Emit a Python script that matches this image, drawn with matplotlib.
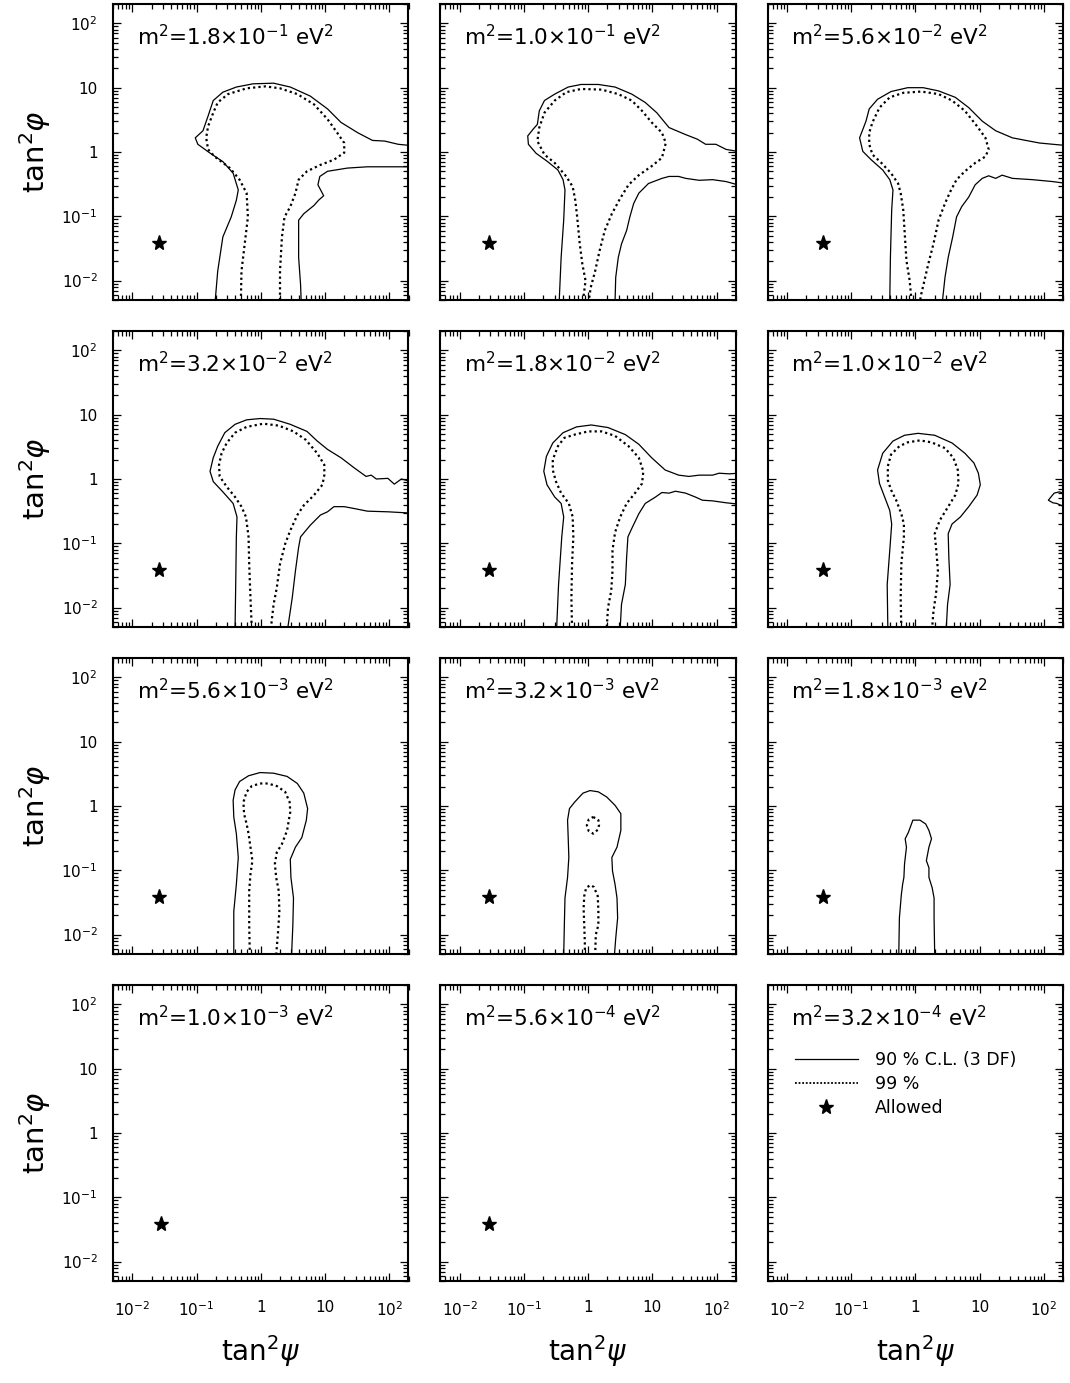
import matplotlib
matplotlib.use("Agg")
import matplotlib.pyplot as plt
import numpy as np
from matplotlib.lines import Line2D
from matplotlib.ticker import FixedLocator, LogLocator, NullFormatter

# panel labels (m^2 in eV^2)
m2_labels = ["1.8", "1.0", "5.6", "3.2", "1.8", "1.0", "5.6", "3.2", "1.8", "1.0", "5.6", "3.2"]
m2_exps = [-1, -1, -2, -2, -2, -2, -3, -3, -3, -3, -4, -4]

# best-fit "allowed" points, log10(tan^2 psi), log10(tan^2 phi); None = no star
star_lx = [-1.58, -1.54, -1.44, -1.58, -1.54, -1.44, -1.58, -1.54, -1.44, -1.55, -1.54, None]
star_ly = [-1.41, -1.41, -1.41, -1.42, -1.42, -1.42, -1.42, -1.42, -1.42, -1.42, -1.42, None]

# contours: (log10 tan^2 psi, log10 tan^2 phi)
p1_solid = [
    [[-0.71, -2.32], [-0.67, -1.85], [-0.59, -1.32], [-0.46, -1.01], [-0.38, -0.75], [-0.35, -0.59],
     [-0.43, -0.33], [-0.59, -0.15], [-0.80, -0.01], [-0.98, 0.12], [-1.02, 0.22], [-0.90, 0.33],
     [-0.82, 0.56], [-0.74, 0.80], [-0.59, 0.93], [-0.38, 1.01], [-0.12, 1.06], [0.20, 1.07],
     [0.46, 1.01], [0.77, 0.87], [1.04, 0.67], [1.25, 0.46], [1.51, 0.30], [1.74, 0.18],
     [1.93, 0.17], [2.14, 0.12], [2.34, 0.10]],
    [[2.34, -0.23], [2.08, -0.23], [1.66, -0.23], [1.35, -0.25], [1.04, -0.30], [0.92, -0.38],
     [0.89, -0.51], [0.98, -0.68], [0.90, -0.75], [0.83, -0.83], [0.67, -0.96], [0.59, -1.06],
     [0.59, -1.64], [0.62, -2.06], [0.63, -2.32]],
]
p1_dotted = [
    [[-0.31, -2.32], [-0.30, -1.85], [-0.25, -1.43], [-0.20, -1.01], [-0.22, -0.64], [-0.33, -0.43],
     [-0.48, -0.25], [-0.72, -0.07], [-0.82, 0.04], [-0.85, 0.22], [-0.82, 0.40], [-0.74, 0.61],
     [-0.67, 0.77], [-0.51, 0.90], [-0.22, 0.99], [0.07, 1.02], [0.30, 0.99], [0.57, 0.90],
     [0.83, 0.74], [1.04, 0.51], [1.19, 0.30], [1.30, 0.14], [1.30, -0.01], [1.14, -0.12],
     [0.93, -0.20], [0.72, -0.30], [0.59, -0.43], [0.54, -0.64], [0.46, -0.85], [0.37, -1.01],
     [0.33, -1.32], [0.30, -1.85], [0.30, -2.32]],
]

p2_solid = [
    [[-0.45, -2.32], [-0.42, -1.64], [-0.38, -1.06], [-0.36, -0.59], [-0.39, -0.43], [-0.47, -0.28],
     [-0.63, -0.15], [-0.81, -0.02], [-0.93, 0.12], [-0.94, 0.25], [-0.86, 0.35], [-0.79, 0.43],
     [-0.76, 0.64], [-0.68, 0.80], [-0.52, 0.90], [-0.31, 1.01], [-0.11, 1.05], [0.16, 1.05],
     [0.42, 1.01], [0.68, 0.90], [0.89, 0.77], [1.07, 0.61], [1.26, 0.38], [1.52, 0.27],
     [1.70, 0.20], [1.83, 0.12], [1.99, 0.12], [2.15, 0.04], [2.33, 0.01]],
    [[2.33, -0.51], [2.15, -0.46], [1.94, -0.43], [1.73, -0.44], [1.52, -0.41], [1.41, -0.38],
     [1.26, -0.38], [1.15, -0.41], [0.94, -0.49], [0.79, -0.64], [0.71, -0.80], [0.65, -1.01],
     [0.60, -1.22], [0.52, -1.43], [0.47, -1.64], [0.43, -1.95], [0.42, -2.32]],
]
p2_dotted = [
    [[-0.08, -2.32], [-0.04, -2.00], [-0.09, -1.74], [-0.13, -1.43], [-0.17, -1.01], [-0.20, -0.75],
     [-0.24, -0.54], [-0.34, -0.38], [-0.52, -0.17], [-0.68, -0.04], [-0.79, 0.17], [-0.76, 0.38],
     [-0.68, 0.61], [-0.52, 0.80], [-0.34, 0.93], [-0.11, 0.98], [0.21, 0.97], [0.47, 0.90],
     [0.68, 0.80], [0.84, 0.64], [0.99, 0.46], [1.15, 0.30], [1.21, 0.14], [1.15, -0.09],
     [0.99, -0.22], [0.79, -0.36], [0.63, -0.51], [0.50, -0.72], [0.37, -0.96], [0.26, -1.22],
     [0.18, -1.53], [0.11, -1.85], [0.04, -2.11], [0.01, -2.32]],
]

p3_solid = [
    [[-0.40, -2.32], [-0.39, -1.64], [-0.37, -0.90], [-0.35, -0.59], [-0.40, -0.43], [-0.51, -0.28],
     [-0.69, -0.12], [-0.82, 0.01], [-0.87, 0.22], [-0.82, 0.35], [-0.77, 0.48], [-0.72, 0.67],
     [-0.59, 0.82], [-0.38, 0.94], [-0.12, 1.00], [0.12, 1.00], [0.36, 0.95], [0.62, 0.85],
     [0.83, 0.69], [1.04, 0.48], [1.25, 0.33], [1.51, 0.22], [1.72, 0.18], [1.93, 0.14],
     [2.14, 0.12], [2.36, 0.10]],
    [[2.36, -0.49], [2.14, -0.46], [1.82, -0.43], [1.51, -0.41], [1.35, -0.36], [1.25, -0.41],
     [1.14, -0.37], [1.04, -0.41], [0.93, -0.51], [0.83, -0.70], [0.72, -0.85], [0.64, -1.01],
     [0.58, -1.32], [0.51, -1.64], [0.46, -1.95], [0.42, -2.32]],
]
p3_dotted = [
    [[-0.06, -2.32], [-0.09, -2.00], [-0.14, -1.69], [-0.17, -1.22], [-0.19, -0.90], [-0.23, -0.64],
     [-0.27, -0.49], [-0.38, -0.33], [-0.53, -0.17], [-0.67, -0.04], [-0.72, 0.12], [-0.72, 0.30],
     [-0.67, 0.46], [-0.56, 0.69], [-0.40, 0.85], [-0.19, 0.92], [0.09, 0.94], [0.36, 0.90],
     [0.57, 0.80], [0.77, 0.64], [0.96, 0.40], [1.09, 0.22], [1.14, 0.04], [1.09, -0.07],
     [0.93, -0.17], [0.77, -0.30], [0.64, -0.43], [0.54, -0.62], [0.46, -0.80], [0.36, -1.06],
     [0.28, -1.43], [0.20, -1.74], [0.14, -2.00], [0.09, -2.21], [0.07, -2.32]],
]

p4_solid = [
    [[-0.40, -2.32], [-0.39, -1.64], [-0.38, -0.90], [-0.37, -0.59], [-0.43, -0.38], [-0.59, -0.20],
     [-0.74, -0.04], [-0.79, 0.12], [-0.74, 0.33], [-0.67, 0.51], [-0.56, 0.72], [-0.40, 0.85],
     [-0.22, 0.92], [-0.01, 0.94], [0.20, 0.93], [0.46, 0.85], [0.72, 0.74], [0.88, 0.59],
     [1.04, 0.46], [1.25, 0.33], [1.46, 0.17], [1.64, 0.04], [1.72, 0.06], [1.80, 0.00],
     [1.98, 0.01], [2.08, -0.08], [2.19, 0.00], [2.34, -0.04]],
    [[2.34, -0.53], [1.98, -0.51], [1.66, -0.50], [1.46, -0.46], [1.30, -0.43], [1.14, -0.43],
     [1.04, -0.51], [0.93, -0.56], [0.77, -0.72], [0.62, -0.90], [0.59, -1.06], [0.54, -1.43],
     [0.49, -1.85], [0.42, -2.32]],
]
p4_dotted = [
    [[-0.14, -2.32], [-0.16, -1.85], [-0.18, -1.32], [-0.19, -0.90], [-0.23, -0.59], [-0.30, -0.43],
     [-0.40, -0.28], [-0.53, -0.12], [-0.64, 0.04], [-0.65, 0.22], [-0.61, 0.40], [-0.53, 0.56],
     [-0.40, 0.72], [-0.22, 0.81], [0.04, 0.86], [0.28, 0.83], [0.51, 0.74], [0.70, 0.61],
     [0.88, 0.40], [0.99, 0.22], [0.99, 0.06], [0.96, -0.09], [0.83, -0.25], [0.67, -0.41],
     [0.57, -0.56], [0.46, -0.80], [0.38, -1.01], [0.30, -1.32], [0.25, -1.69], [0.20, -1.95],
     [0.17, -2.21], [0.16, -2.32]],
]

p5_solid = [
    [[-0.49, -2.32], [-0.46, -1.64], [-0.41, -0.90], [-0.38, -0.59], [-0.42, -0.38], [-0.52, -0.28],
     [-0.64, -0.09], [-0.69, 0.12], [-0.65, 0.35], [-0.55, 0.56], [-0.39, 0.72], [-0.18, 0.81],
     [0.05, 0.84], [0.31, 0.80], [0.58, 0.69], [0.79, 0.54], [0.99, 0.33], [1.20, 0.14],
     [1.41, 0.06], [1.57, 0.04], [1.73, 0.06], [1.94, 0.06], [2.04, 0.09], [2.20, 0.08],
     [2.34, 0.09]],
    [[2.34, -0.39], [2.15, -0.37], [1.94, -0.34], [1.78, -0.33], [1.67, -0.28], [1.52, -0.22],
     [1.36, -0.19], [1.26, -0.22], [1.15, -0.21], [1.05, -0.28], [0.89, -0.38], [0.79, -0.54],
     [0.68, -0.77], [0.62, -0.90], [0.60, -1.22], [0.58, -1.64], [0.52, -1.95], [0.50, -2.32]],
]
p5_dotted = [
    [[-0.25, -2.32], [-0.26, -1.85], [-0.25, -1.32], [-0.23, -0.90], [-0.24, -0.59], [-0.30, -0.38],
     [-0.42, -0.22], [-0.50, -0.04], [-0.55, 0.14], [-0.55, 0.30], [-0.47, 0.51], [-0.37, 0.64],
     [-0.21, 0.69], [0.00, 0.74], [0.21, 0.74], [0.42, 0.67], [0.63, 0.51], [0.79, 0.33],
     [0.86, 0.12], [0.84, -0.07], [0.73, -0.22], [0.60, -0.38], [0.50, -0.59], [0.42, -0.83],
     [0.38, -1.11], [0.38, -1.43], [0.36, -1.74], [0.31, -2.00], [0.29, -2.32]],
]

p6_solid = [
    [[-0.43, -2.32], [-0.44, -1.64], [-0.40, -1.11], [-0.37, -0.70], [-0.40, -0.49], [-0.48, -0.28],
     [-0.56, -0.07], [-0.59, 0.14], [-0.51, 0.40], [-0.35, 0.59], [-0.17, 0.68], [0.04, 0.71],
     [0.30, 0.68], [0.57, 0.56], [0.77, 0.40], [0.91, 0.25], [0.98, 0.09], [1.01, -0.09],
     [0.96, -0.25], [0.83, -0.43], [0.70, -0.59], [0.57, -0.70], [0.51, -0.85], [0.52, -1.22],
     [0.54, -1.64], [0.50, -1.95], [0.48, -2.32]],
    [[2.31, -0.22], [2.24, -0.20], [2.16, -0.22], [2.11, -0.28], [2.07, -0.33], [2.14, -0.37],
     [2.20, -0.38], [2.27, -0.41], [2.31, -0.43]],
]
p6_dotted = [
    [[-0.22, -2.32], [-0.23, -1.85], [-0.22, -1.32], [-0.18, -0.90], [-0.18, -0.70], [-0.22, -0.54],
     [-0.30, -0.33], [-0.38, -0.17], [-0.43, -0.02], [-0.43, 0.20], [-0.38, 0.38], [-0.25, 0.51],
     [-0.12, 0.57], [0.07, 0.60], [0.25, 0.57], [0.46, 0.48], [0.59, 0.33], [0.66, 0.14],
     [0.67, -0.07], [0.62, -0.25], [0.51, -0.43], [0.38, -0.64], [0.30, -0.85], [0.33, -1.17],
     [0.35, -1.43], [0.32, -1.79], [0.28, -2.06], [0.26, -2.32]],
]

p7_solid = [
    [[-0.42, -2.32], [-0.42, -1.64], [-0.38, -1.22], [-0.35, -0.80], [-0.38, -0.43], [-0.42, -0.17],
     [-0.43, 0.09], [-0.40, 0.25], [-0.33, 0.38], [-0.19, 0.47], [-0.01, 0.52], [0.20, 0.51],
     [0.41, 0.46], [0.57, 0.35], [0.67, 0.20], [0.73, -0.04], [0.71, -0.22], [0.64, -0.49],
     [0.54, -0.64], [0.46, -0.83], [0.47, -1.11], [0.51, -1.43], [0.50, -1.85], [0.48, -2.32]],
]
p7_dotted = [
    [[-0.17, -2.32], [-0.18, -1.85], [-0.18, -1.32], [-0.16, -1.06], [-0.13, -0.85], [-0.16, -0.64],
     [-0.19, -0.43], [-0.22, -0.28], [-0.26, -0.12], [-0.27, 0.06], [-0.22, 0.22], [-0.14, 0.31],
     [-0.01, 0.35], [0.11, 0.35], [0.25, 0.31], [0.38, 0.22], [0.45, 0.06], [0.46, -0.09],
     [0.41, -0.38], [0.33, -0.59], [0.25, -0.72], [0.22, -0.90], [0.24, -1.11], [0.28, -1.32],
     [0.29, -1.64], [0.27, -1.95], [0.24, -2.32]],
]

p8_solid = [
    [[-0.38, -2.32], [-0.37, -1.85], [-0.36, -1.43], [-0.32, -1.11], [-0.30, -0.80], [-0.31, -0.49],
     [-0.32, -0.22], [-0.29, -0.04], [-0.21, 0.06], [-0.08, 0.20], [0.03, 0.24], [0.16, 0.22],
     [0.29, 0.14], [0.42, 0.01], [0.51, -0.12], [0.51, -0.38], [0.45, -0.64], [0.37, -0.80],
     [0.38, -1.01], [0.42, -1.22], [0.45, -1.43], [0.46, -1.74], [0.43, -2.06], [0.41, -2.32]],
]
p8_dotted = [
    [[0.08, -0.17], [0.16, -0.22], [0.17, -0.30], [0.15, -0.37], [0.08, -0.43], [0.01, -0.39],
     [-0.02, -0.30], [0.01, -0.21], [0.08, -0.17]],
    [[-0.05, -2.32], [-0.05, -2.16], [-0.06, -1.85], [-0.07, -1.59], [-0.06, -1.40], [-0.03, -1.27],
     [0.04, -1.23], [0.09, -1.26], [0.15, -1.40], [0.16, -1.64], [0.16, -1.85], [0.12, -2.00],
     [0.11, -2.32]],
]

p9_solid = [
    [[-0.26, -2.32], [-0.25, -1.74], [-0.22, -1.38], [-0.20, -1.22], [-0.18, -1.11], [-0.17, -0.90],
     [-0.14, -0.64], [-0.16, -0.51], [-0.11, -0.41], [-0.04, -0.22], [0.07, -0.22], [0.16, -0.28],
     [0.21, -0.38], [0.25, -0.51], [0.21, -0.64], [0.17, -0.85], [0.21, -0.96], [0.21, -1.11],
     [0.26, -1.27], [0.29, -1.43], [0.29, -1.74], [0.30, -2.32]],
]

solid_sets = [p1_solid, p2_solid, p3_solid, p4_solid, p5_solid, p6_solid,
              p7_solid, p8_solid, p9_solid, [], [], []]
dotted_sets = [p1_dotted, p2_dotted, p3_dotted, p4_dotted, p5_dotted, p6_dotted,
               p7_dotted, p8_dotted, [], [], [], []]

major_ticks = [0.01, 0.1, 1, 10, 100]
tick_labels = ["10$^{-2}$", "10$^{-1}$", "1", "10", "10$^{2}$"]

DOTS = (0, (1.0, 1.4))

fig = plt.figure(figsize=(10.70, 13.83), dpi=100)
W, H = 1070.0, 1383.0

for i in range(12):
    r, c = divmod(i, 3)
    left = 113 + c * 327.35
    top = 4 + r * 327
    ax = fig.add_axes([left / W, 1 - (top + 296) / H, 295.5 / W, 296 / H])
    ax.set_xscale("log")
    ax.set_yscale("log")
    ax.set_xlim(0.005, 200)
    ax.set_ylim(0.005, 200)

    for seg in solid_sets[i]:
        seg = np.array(seg)
        ax.plot(10 ** seg[:, 0], 10 ** seg[:, 1], color="k", lw=0.9)
    for seg in dotted_sets[i]:
        seg = np.array(seg)
        ax.plot(10 ** seg[:, 0], 10 ** seg[:, 1], color="k", lw=1.6, ls=DOTS)
    if star_lx[i] is not None:
        ax.plot(10 ** star_lx[i], 10 ** star_ly[i], marker="*", color="k", ms=11, ls="none")

    ax.text(0.08, 0.86, r"m$^2$=%s$\times$10$^{%d}$ eV$^2$" % (m2_labels[i], m2_exps[i]),
            transform=ax.transAxes, fontsize=15.5, ha="left", va="baseline")

    for axis in (ax.xaxis, ax.yaxis):
        axis.set_major_locator(FixedLocator(major_ticks))
        axis.set_minor_locator(LogLocator(base=10, subs=np.arange(2, 10), numticks=20))
        axis.set_minor_formatter(NullFormatter())
    ax.tick_params(which="both", direction="in", top=True, right=True, width=0.9)
    ax.tick_params(which="major", length=6)
    ax.tick_params(which="minor", length=3.5)
    ax.tick_params(axis="x", pad=14, labelsize=11)
    ax.tick_params(axis="y", pad=11, labelsize=11)
    for sp in ax.spines.values():
        sp.set_linewidth(1.5)

    if c == 0:
        ax.set_yticklabels(tick_labels)
        ax.text(-0.264, 0.5, r"tan$^2\varphi$", transform=ax.transAxes, rotation=90,
                fontsize=21, ha="center", va="center")
    else:
        ax.set_yticklabels([])
    if r == 3:
        ax.set_xticklabels(tick_labels)
        ax.text(0.5, -0.235, r"tan$^2\psi$", transform=ax.transAxes,
                fontsize=20, ha="center", va="center")
    else:
        ax.set_xticklabels([])

    if i == 11:
        handles = [Line2D([], [], color="k", lw=0.9),
                   Line2D([], [], color="k", lw=1.3, ls=(0, (1.0, 1.0))),
                   Line2D([], [], color="k", marker="*", ms=11, ls="none")]
        ax.legend(handles, ["90 % C.L. (3 DF)", "99 %", "Allowed"], loc="upper left",
                  bbox_to_anchor=(0.04, 0.83), frameon=False, fontsize=12.5,
                  handlelength=3.6, handletextpad=1.0, labelspacing=0.35)

fig.savefig("out.png", dpi=100)
